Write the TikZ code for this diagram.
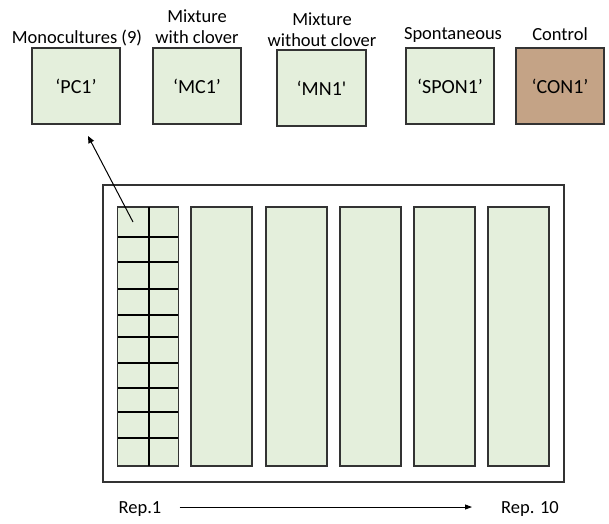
\documentclass[tikz,border=0pt]{standalone}
\usepackage{fontspec}
\setmainfont{Carlito}
\usetikzlibrary{arrows.meta}
\definecolor{plotgreen}{HTML}{E4EFDC}
\definecolor{bareground}{HTML}{C4A386}
\definecolor{edge}{HTML}{333333}
\tikzset{
  plotbox/.style={draw=edge, line width=1.2pt, fill=plotgreen, minimum width=88pt, minimum height=76pt, inner sep=0pt, font=\fontsize{20}{24}\selectfont},
  ctrlbox/.style={plotbox, fill=bareground},
  treat/.style={anchor=base, align=center, inner sep=0pt, font=\fontsize{18.5}{21}\selectfont},
  strip/.style={draw=edge, line width=1.1pt, fill=plotgreen, minimum width=61pt, minimum height=259pt, inner sep=0pt},
  gridline/.style={draw=black, line width=1.1pt},
  replabel/.style={anchor=base, inner sep=0pt, font=\fontsize{18.5}{21}\selectfont}
}
\begin{document}
\begin{tikzpicture}[x=1pt,y=-1pt]
\useasboundingbox (0,0) rectangle (609,523);

% treatment plots
\node[plotbox] (pc1) at (76,86) {‘PC1’};
\node[plotbox] (mc1) at (197,86) {‘MC1’};
\node[plotbox, minimum width=89pt] (mn1) at (321.5,88) {‘MN1\textquotesingle};
\node[plotbox] (spon1) at (450,86) {‘SPON1’};
\node[ctrlbox] (con1) at (560,86) {‘CON1’};

% treatment names (base = last line)
\node[treat] (lpc) at (77,43) {Monocultures (9)};
\node[treat] (lmc) at (197,43) {Mixture\\with clover};
\node[treat] (lmn) at (322,46) {Mixture\\without clover};
\node[treat] (lsp) at (453,39) {Spontaneous};
\node[treat] (lco) at (560,40) {Control};

% field outline
\node[draw=edge, line width=1.2pt, minimum width=461pt, minimum height=297pt, inner sep=0pt] (field) at (333.5,333.5) {};

% replicate strips
\node[strip] (r1) at (148,336.5) {};
\node[strip] (r2) at (221.5,336.5) {};
\node[strip] (r3) at (296.5,336.5) {};
\node[strip] (r4) at (370.5,336.5) {};
\node[strip] (r5) at (444.5,336.5) {};
\node[strip] (r6) at (518.5,336.5) {};

% subplots of the first strip
\draw[gridline] (149,207) -- (149,466);
\foreach \yy in {237,262,289,315,337,363,388,412,438}
  \draw[gridline] (118,\yy) -- (178,\yy);

% pointer from a subplot to its treatment
\coordinate (cell) at (133,222);
\coordinate (tip) at (88,136);
\draw[line width=1pt, -{Triangle[length=7pt,width=6pt]}] (cell) -- (tip);

% replicate axis
\node[replabel] (rep1) at (140,513) {Rep.1};
\node[replabel] (rep10) at (530,513) {Rep. 10};
\draw[line width=0.9pt, -{Triangle[length=7pt,width=5pt]}] (rep1.east |- 0,507) ++(18,0) -- (472,507);
\end{tikzpicture}
\end{document}
